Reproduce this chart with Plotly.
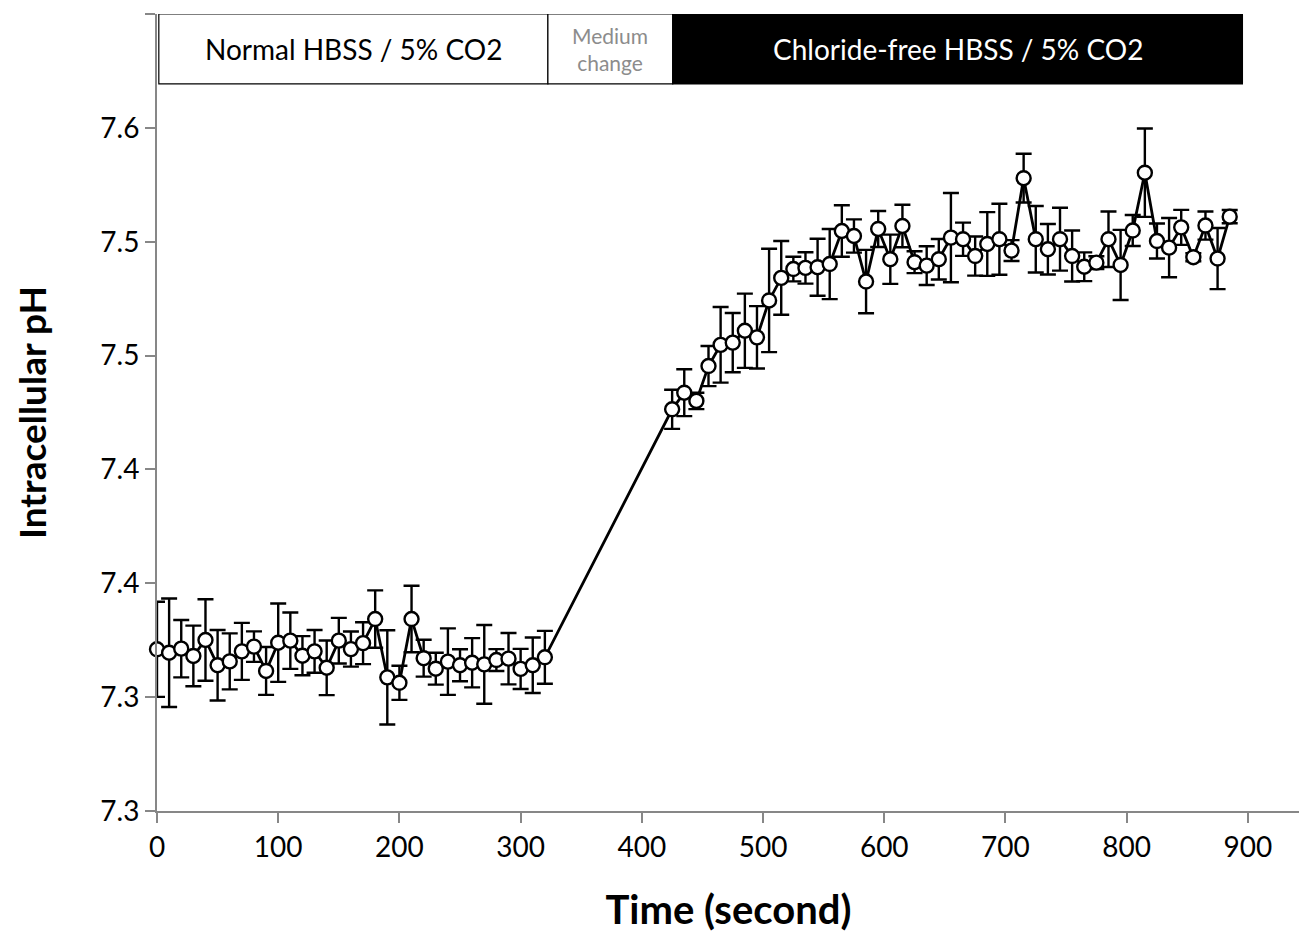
import plotly.graph_objects as go

# time points (s) and mean intracellular pH with error (symmetric)
time_s = [0, 10, 20, 30, 40, 50, 60, 70, 80, 90, 100, 110, 120, 130, 140, 150,
          160, 170, 180, 190, 200, 210, 220, 230, 240, 250, 260, 270, 280, 290,
          300, 310, 320,
          425, 435, 445, 455, 465, 475, 485, 495, 505, 515, 525, 535, 545, 555,
          565, 575, 585, 595, 605, 615, 625, 635, 645, 655, 665, 675, 685, 695,
          705, 715, 725, 735, 745, 755, 765, 775, 785, 795, 805, 815, 825, 835,
          845, 855, 865, 875, 885]
ph_mean = [7.3210, 7.3195, 7.3213, 7.3181, 7.3251, 7.3140, 7.3157, 7.3201, 7.3222,
           7.3115, 7.3239, 7.3248, 7.3182, 7.3201, 7.3129, 7.3248, 7.3211, 7.3237,
           7.3343, 7.3087, 7.3063, 7.3343, 7.3171, 7.3125, 7.3156, 7.3140, 7.3151,
           7.3144, 7.3163, 7.3169, 7.3124, 7.3140, 7.3175,
           7.4264, 7.4337, 7.4301, 7.4454, 7.4547, 7.4557, 7.4609, 7.4580, 7.4742,
           7.4841, 7.4880, 7.4885, 7.4888, 7.4902, 7.5047, 7.5025, 7.4825, 7.5056,
           7.4923, 7.5069, 7.4910, 7.4895, 7.4923, 7.5018, 7.5011, 7.4937, 7.4990,
           7.5011, 7.4961, 7.5279, 7.5011, 7.4967, 7.5011, 7.4937, 7.4890, 7.4908,
           7.5011, 7.4898, 7.5049, 7.5303, 7.5003, 7.4974, 7.5063, 7.4932, 7.5071,
           7.4926, 7.5110]
ph_err = [0.0209, 0.0238, 0.0126, 0.0133, 0.0179, 0.0155, 0.0123, 0.0125, 0.0067,
          0.0105, 0.0172, 0.0124, 0.0086, 0.0094, 0.0120, 0.0100, 0.0077, 0.0092,
          0.0126, 0.0207, 0.0075, 0.0146, 0.0081, 0.0070, 0.0146, 0.0070, 0.0108,
          0.0173, 0.0048, 0.0113, 0.0088, 0.0122, 0.0116,
          0.0086, 0.0103, 0.0036, 0.0088, 0.0166, 0.0130, 0.0163, 0.0137, 0.0227,
          0.0162, 0.0054, 0.0069, 0.0125, 0.0154, 0.0113, 0.0073, 0.0139, 0.0079,
          0.0108, 0.0093, 0.0048, 0.0085, 0.0089, 0.0196, 0.0073, 0.0086, 0.0140,
          0.0156, 0.0046, 0.0107, 0.0146, 0.0111, 0.0138, 0.0112, 0.0063, 0.0028,
          0.0122, 0.0154, 0.0068, 0.0194, 0.0077, 0.0130, 0.0077, 0.0018, 0.0062,
          0.0134, 0.0029]

y_tickvals = [7.25, 7.30, 7.35, 7.40, 7.45, 7.50, 7.55, 7.60]
y_ticktext = ["7.3", "7.3", "7.4", "7.4", "7.5", "7.5", "7.6", "7.6"]
x_tickvals = [0, 100, 200, 300, 400, 500, 600, 700, 800, 900]

# condition bar at the top of the plot
phase_labels = ["Normal HBSS / 5% CO2", "Medium<br>change", "Chloride-free HBSS / 5% CO2"]
phase_edges = [1.5, 322.5, 425.5, 895.5]
phase_fill = ["white", "white", "black"]
phase_font = [("black", 28), ("#8c8c8c", 21), ("white", 28)]
band_y = [7.5693, 7.60]

FONT = "Lato"
AXIS_GREY = "#878787"

fig = go.Figure()
fig.add_trace(go.Scatter(
    x=time_s, y=ph_mean, mode="lines+markers", cliponaxis=False,
    line=dict(color="black", width=2.8),
    marker=dict(symbol="circle", size=14, color="white",
                line=dict(color="black", width=2.4)),
    error_y=dict(type="data", array=ph_err, visible=True,
                 color="black", thickness=2.4, width=8),
    showlegend=False,
))

for i, lab in enumerate(phase_labels):
    fig.add_shape(type="rect", xref="x", yref="y",
                  x0=phase_edges[i], x1=phase_edges[i + 1],
                  y0=band_y[0], y1=band_y[1],
                  fillcolor=phase_fill[i], line=dict(color="black", width=1.2),
                  layer="above")
    fig.add_annotation(x=(phase_edges[i] + phase_edges[i + 1]) / 2,
                       y=(band_y[0] + band_y[1]) / 2, xref="x", yref="y",
                       text=lab, showarrow=False,
                       font=dict(family=FONT, color=phase_font[i][0], size=phase_font[i][1]))

# page body adds an 8px offset, so the figure is a bit smaller than the window
fig.update_layout(
    width=1299, height=929,
    margin=dict(l=149, r=7, t=6, b=126, autoexpand=False),
    plot_bgcolor="white", paper_bgcolor="white",
    font=dict(family=FONT, color="black", size=28),
)
fig.update_xaxes(
    range=[0, 943], tickvals=x_tickvals, automargin=False,
    showline=True, linecolor=AXIS_GREY, linewidth=2,
    ticks="outside", ticklen=10, tickwidth=2, tickcolor=AXIS_GREY,
    showgrid=False, zeroline=False,
    tickfont=dict(family=FONT, size=28),
    title=dict(text="<b>Time (second)</b>", font=dict(family=FONT, size=40), standoff=34),
)
fig.update_yaxes(
    range=[7.25, 7.60], tickvals=y_tickvals, ticktext=y_ticktext, automargin=False,
    showline=True, linecolor=AXIS_GREY, linewidth=2,
    ticks="outside", ticklen=10, tickwidth=2, tickcolor=AXIS_GREY,
    showgrid=False, zeroline=False,
    tickfont=dict(family=FONT, size=28),
    title=dict(text="<b>Intracellular pH</b>", font=dict(family=FONT, size=37), standoff=42),
)

fig.write_html("out.html")
